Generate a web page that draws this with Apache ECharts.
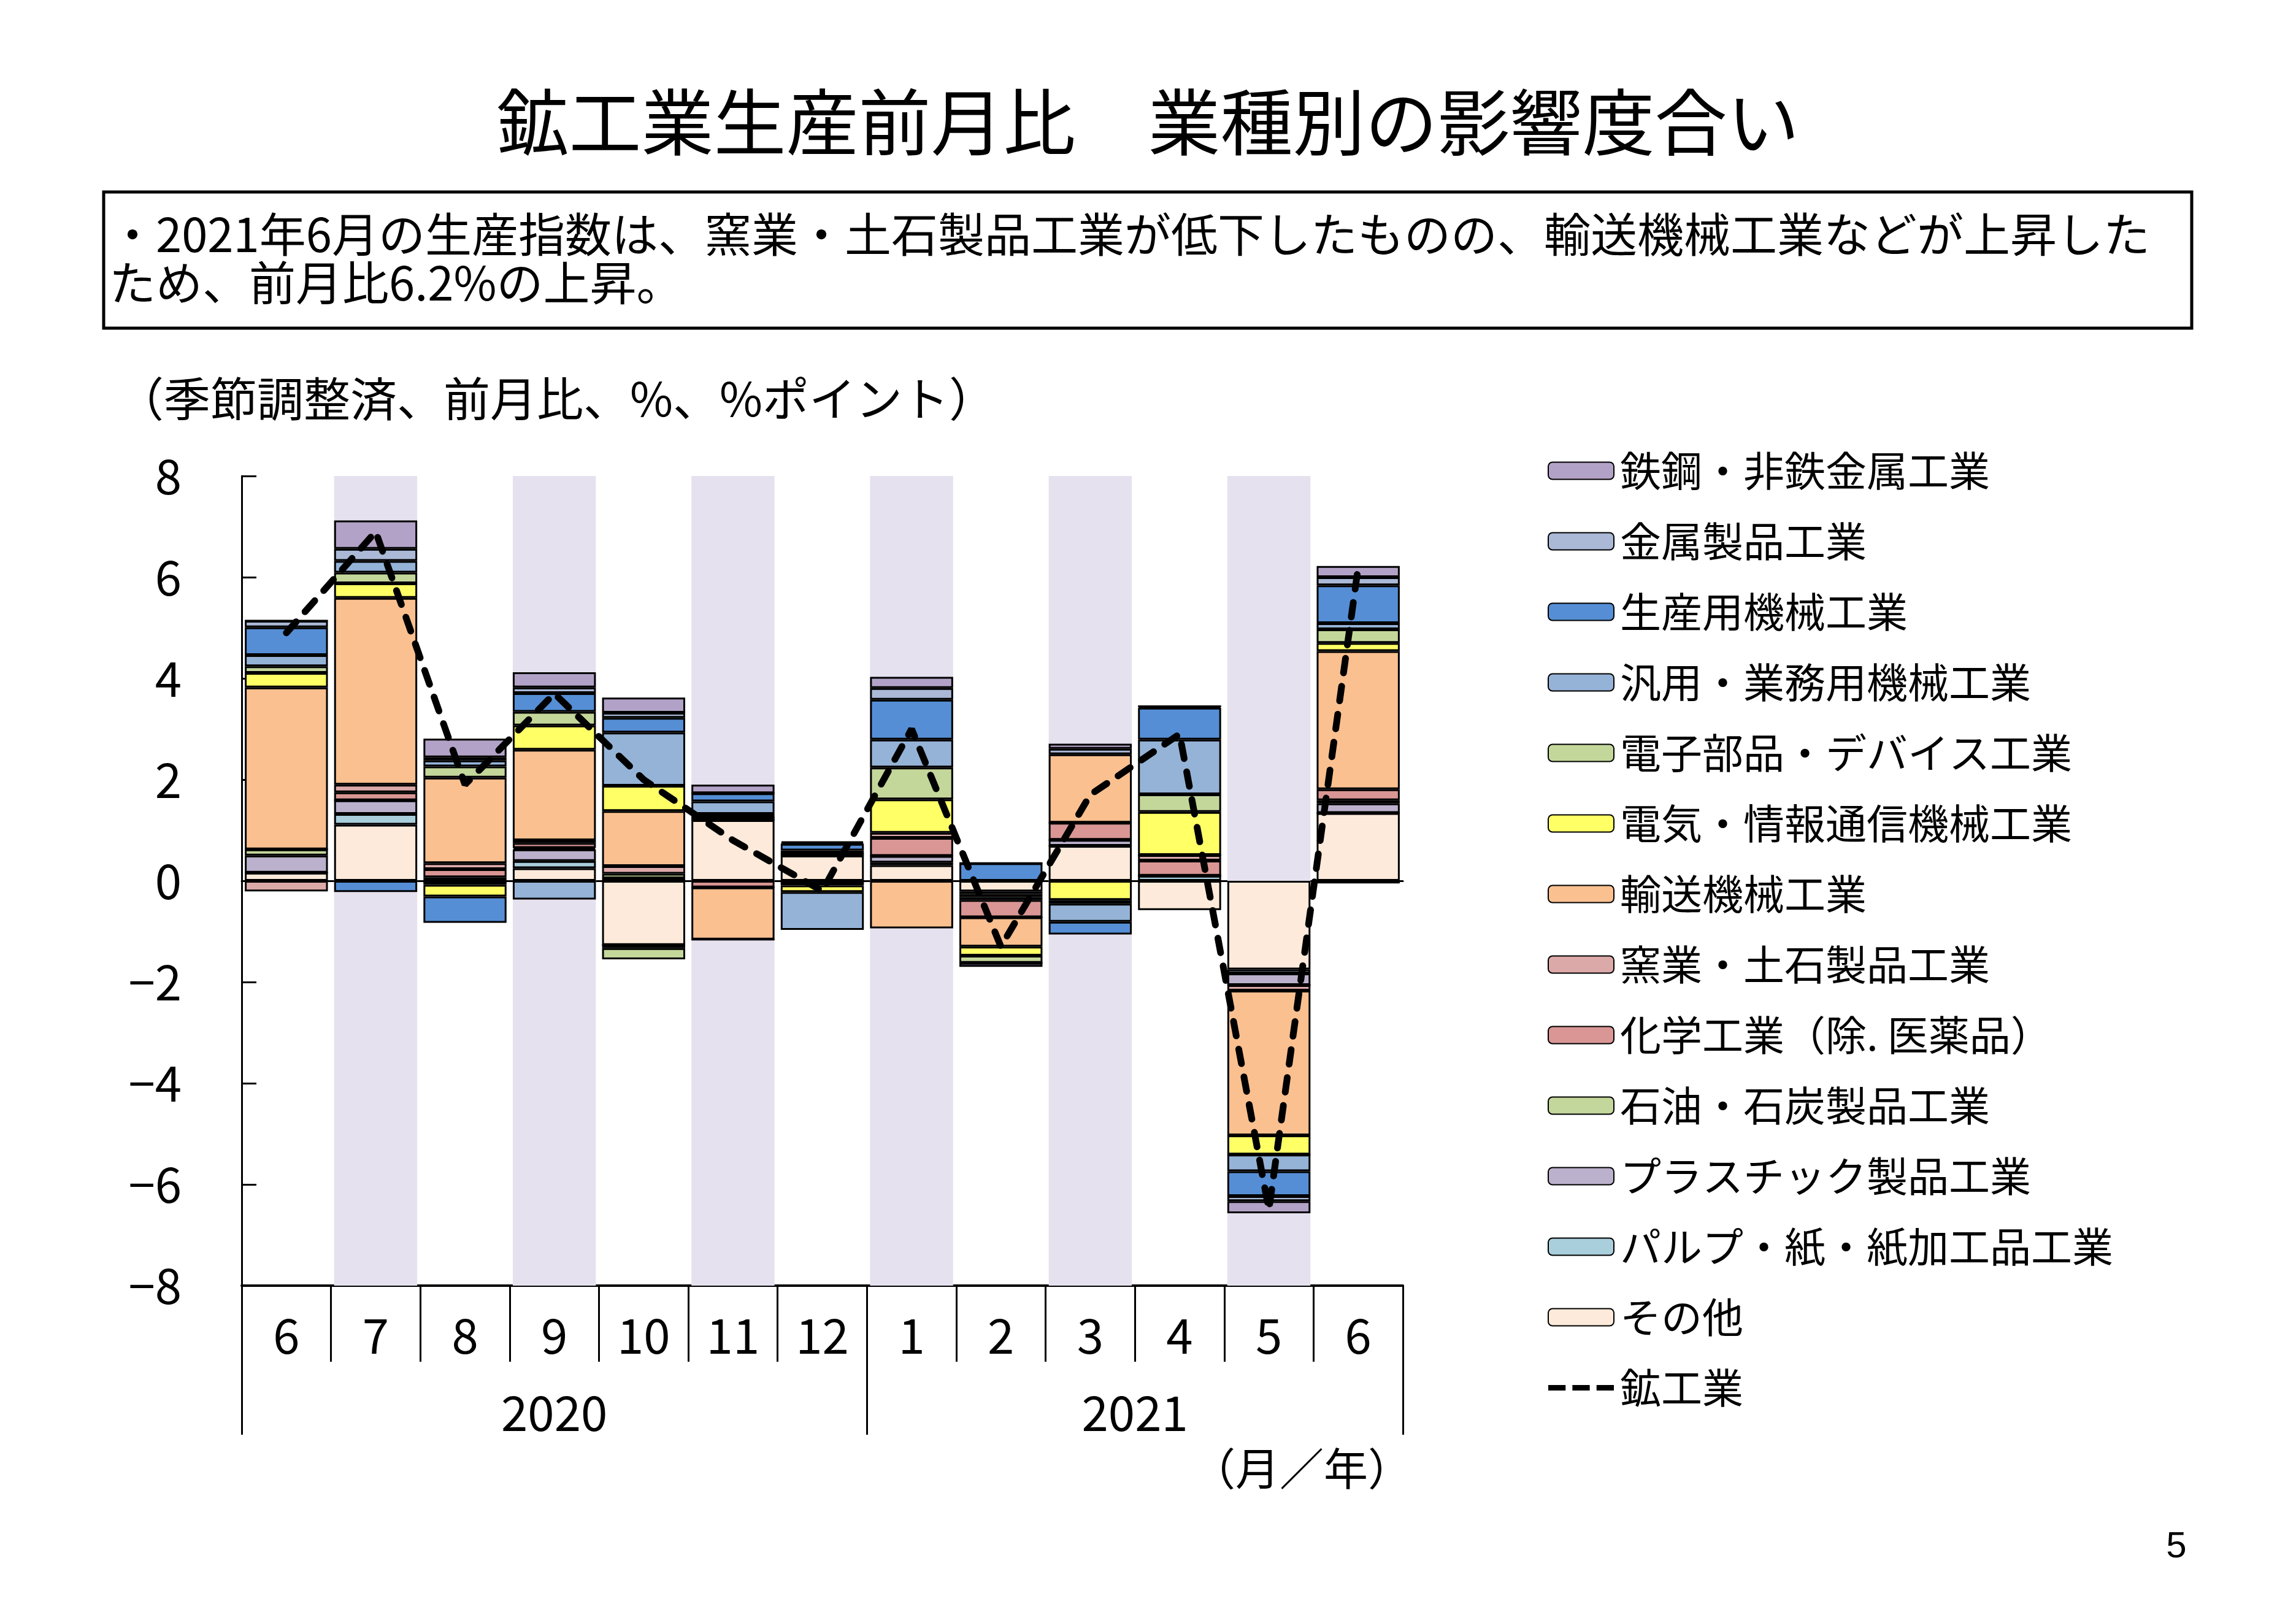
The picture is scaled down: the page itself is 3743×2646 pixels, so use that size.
<!DOCTYPE html>
<html><head><meta charset="utf-8">
<script src="https://cdn.jsdelivr.net/npm/echarts@6/dist/echarts.min.js"></script>
<style>html,body{margin:0;padding:0;background:#fff}#c{width:3743px;height:2646px}</style>
</head><body><div id="c"></div>
<script>
// ---- data ----
const months = ['6','7','8','9','10','11','12','1','2','3','4','5','6'];
const years  = ['2020','2020','2020','2020','2020','2020','2020','2021','2021','2021','2021','2021','2021'];
const shaded = [0,1,0,1,0,1,0,1,0,1,0,1,0];

// contributions (%pt), stacking order from zero outward
const sonota   = [0.16, 1.11, 0.07, 0.25, -1.27, 1.20, 0.50, 0.31, -0.21, 0.69, -0.58, -1.75, 1.34];
const pulp     = [0.00, 0.21, -0.03, 0.14, 0.00, 0.00, 0.00, 0.05, -0.05, 0.00, 0.10, -0.08, 0.00];
const plastic  = [0.34, 0.27, 0.00, 0.23, 0.05, 0.05, 0.03, 0.13, -0.06, 0.12, 0.00, -0.23, 0.19];
const sekiyu   = [0.12, 0.00, -0.05, 0.03, 0.09, 0.00, 0.00, 0.00, -0.06, 0.00, 0.00, 0.00, 0.06];
const kagaku   = [0.00, 0.16, 0.16, 0.10, -0.06, -0.13, -0.04, 0.36, -0.34, 0.34, 0.30, 0.00, 0.22];
const yogyo    = [-0.21, 0.15, 0.12, 0.05, 0.15, 0.00, 0.00, 0.10, 0.00, 0.00, 0.11, -0.11, -0.05];
const yuso     = [3.20, 3.69, 1.69, 1.79, 1.09, -1.03, -0.05, -0.94, -0.58, 1.35, 0.00, -2.86, 2.73];
const denki    = [0.29, 0.29, -0.23, 0.48, 0.50, 0.00, -0.13, 0.66, -0.18, -0.38, 0.85, -0.38, 0.16];
const denshi   = [0.13, 0.21, 0.22, 0.27, -0.22, 0.07, 0.07, 0.63, -0.14, -0.07, 0.35, 0.00, 0.27];
const hanyo    = [0.22, 0.23, 0.12, -0.37, 1.05, 0.25, -0.75, 0.55, 0.00, -0.36, 1.08, -0.33, 0.12];
const seisan   = [0.55, -0.22, -0.52, 0.37, 0.29, 0.16, 0.13, 0.79, 0.35, -0.25, 0.63, -0.49, 0.75];
const kinzoku  = [0.13, 0.24, 0.06, 0.11, 0.10, 0.00, 0.02, 0.23, 0.00, 0.11, 0.03, -0.10, 0.16];
const tekko    = [0.00, 0.56, 0.37, 0.30, 0.30, 0.17, 0.03, 0.22, -0.08, 0.10, 0.00, -0.24, 0.22];
const mining   = [4.9, 6.9, 1.9, 3.7, 2.0, 0.8, -0.2, 3.0, -1.3, 1.7, 2.9, -6.5, 6.2];

const FONT = '"Noto Sans CJK JP", sans-serif';
const stackDefs = [
  {name:'その他', color:'#FDEADA', data:sonota},
  {name:'パルプ・紙・紙加工品工業', color:'#A9CEDC', data:pulp},
  {name:'プラスチック製品工業', color:'#BBB1CC', data:plastic},
  {name:'石油・石炭製品工業', color:'#C3D69B', data:sekiyu},
  {name:'化学工業（除. 医薬品）', color:'#D99694', data:kagaku},
  {name:'窯業・土石製品工業', color:'#DCA9A9', data:yogyo},
  {name:'輸送機械工業', color:'#FAC090', data:yuso},
  {name:'電気・情報通信機械工業', color:'#FFFF66', data:denki},
  {name:'電子部品・デバイス工業', color:'#C4D79B', data:denshi},
  {name:'汎用・業務用機械工業', color:'#95B3D7', data:hanyo},
  {name:'生産用機械工業', color:'#558ED5', data:seisan},
  {name:'金属製品工業', color:'#ABB9D7', data:kinzoku},
  {name:'鉄鋼・非鉄金属工業', color:'#B3A2C7', data:tekko}
];
const lineName = '鉱工業';

const cats = months.map((m,i)=>years[i]+'/'+m);
// year groups
const yearNames = [...new Set(years)];
const yearBounds = [0];
const yearCenters = [];
yearNames.forEach(y=>{
  const s = years.indexOf(y), e = years.lastIndexOf(y)+1;
  yearBounds.push(e); yearCenters.push((s+e)/2);
});

const series = [];
series.push({type:'bar', stack:'bg', silent:true, z:1, barGap:'-100%', barCategoryGap:'7%',
  itemStyle:{color:'#E6E1EE'}, data: shaded.map(s=>s?8:'-')});
series.push({type:'bar', stack:'bg', silent:true, z:1, barGap:'-100%', barCategoryGap:'7%',
  itemStyle:{color:'#E6E1EE'}, data: shaded.map(s=>s?-8:'-')});
stackDefs.forEach(d=>{
  series.push({type:'bar', name:d.name, stack:'main', z:2, barGap:'-100%', barCategoryGap:'7%',
    itemStyle:{color:d.color, borderColor:'#000', borderWidth:3}, data:d.data});
});
series.push({type:'line', name:lineName, data:mining, symbol:'none', z:5,
  itemStyle:{color:'#000'},
  lineStyle:{color:'#000', width:11, type:[24,22], cap:'round'}});

const legendNames = stackDefs.map(d=>d.name).reverse().map(n=>({name:n}));
legendNames.push({name:lineName, icon:'path://M0,0H28V9H0Z M39,0H67V9H39Z M78,0H106V9H78Z',
  itemStyle:{color:'#000', borderWidth:0}});

const chart = echarts.init(document.getElementById('c'), null, {renderer:'canvas'});
chart.setOption({
  animation:false,
  backgroundColor:'#fff',
  textStyle:{fontFamily:FONT},
  grid:{left:394, top:776, width:1893, height:1320, containLabel:false},
  legend:{orient:'vertical', left:2518, top:729, itemWidth:107, itemHeight:28, itemGap:48,
    data:legendNames,
    textStyle:{fontSize:67, lineHeight:67, fontFamily:FONT, color:'#000', padding:[0,0,0,5]}},
  xAxis:[
    {type:'category', data:cats, position:'bottom',
      axisLine:{onZero:false, lineStyle:{color:'#000', width:4}},
      axisTick:{show:true, interval:0, length:124, lineStyle:{color:'#000', width:3}},
      axisLabel:{interval:0, fontSize:78, margin:42, color:'#000', fontFamily:FONT,
        formatter:(v,i)=>months[i]},
      splitLine:{show:false}},
    {type:'value', min:0, max:months.length, position:'bottom', offset:124,
      axisLine:{show:false, onZero:false},
      axisTick:{show:true, customValues:yearBounds, length:119, lineStyle:{color:'#000', width:3}},
      axisLabel:{show:true, customValues:yearCenters, fontSize:78, margin:44, color:'#000', fontFamily:FONT,
        formatter:(v)=>{ const k = yearCenters.indexOf(v); return k>=0 ? yearNames[k] : ''; }},
      splitLine:{show:false}},
    {type:'category', data:cats, position:'bottom',
      axisLine:{show:true, onZero:true, lineStyle:{color:'#000', width:3}},
      axisTick:{show:false}, axisLabel:{show:false}, splitLine:{show:false}}
  ],
  yAxis:{type:'value', min:-8, max:8, interval:2,
    axisLine:{show:true, onZero:false, lineStyle:{color:'#000', width:3}},
    axisTick:{show:true, inside:true, length:24, lineStyle:{color:'#000', width:3}},
    axisLabel:{fontSize:78, margin:98, color:'#000', fontFamily:FONT,
      formatter:(v)=>String(v).replace('-', '\u2212')},
    splitLine:{show:false}},
  series:series,
  graphic:[
    {type:'text', left:'center', top:140, style:{text:'鉱工業生産前月比　業種別の影響度合い', font:'118px '+FONT, fill:'#000'}},
    {type:'rect', shape:{x:169, y:313, width:3404, height:222}, style:{fill:'#fff', stroke:'#000', lineWidth:5}},
    {type:'text', x:178, y:382, style:{text:'・2021年6月の生産指数は、窯業・土石製品工業が低下したものの、輸送機械工業などが上昇した', font:'76px '+FONT, fill:'#000', textVerticalAlign:'middle'}},
    {type:'text', x:178, y:461, style:{text:'ため、前月比6.2%の上昇。', font:'76px '+FONT, fill:'#000', textVerticalAlign:'middle'}},
    {type:'text', x:191, y:650, style:{text:'（季節調整済、前月比、%、%ポイント）', font:'76px '+FONT, fill:'#000', textVerticalAlign:'middle'}},
    {type:'text', x:2122, y:2394, style:{text:'（月／年）', font:'72px '+FONT, fill:'#000', textAlign:'center', textVerticalAlign:'middle'}},
    {type:'text', x:3548, y:2522, style:{text:'5', font:'60px "Liberation Sans", sans-serif', fill:'#000', textAlign:'center', textVerticalAlign:'middle'}}
  ]
});
</script></body></html>
